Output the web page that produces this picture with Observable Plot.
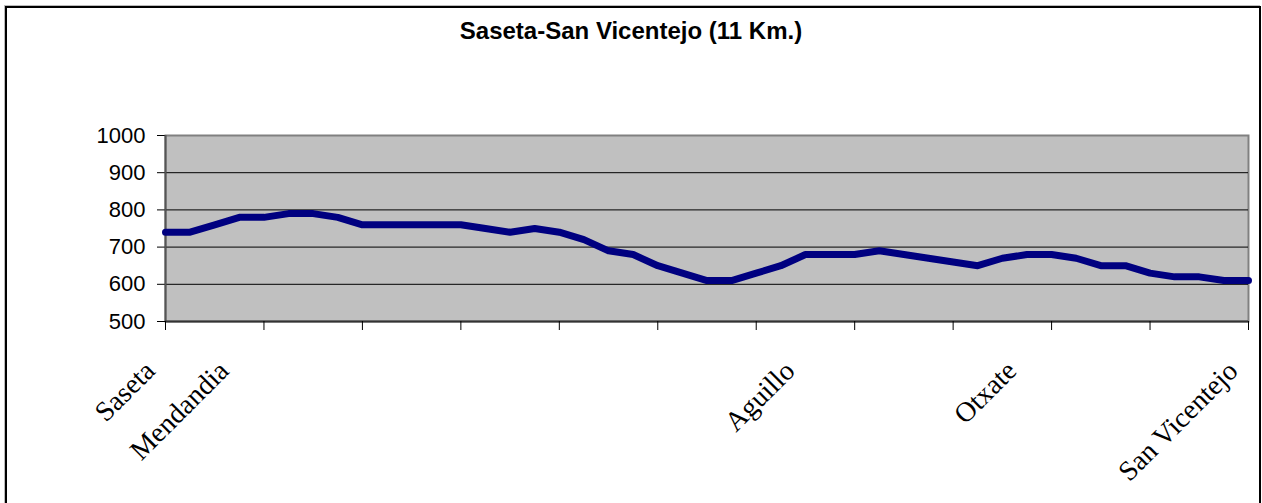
<!DOCTYPE html>
<html>
<head>
<meta charset="utf-8">
<script src="https://cdn.jsdelivr.net/npm/d3@7"></script>
<script src="https://cdn.jsdelivr.net/npm/@observablehq/plot@0.6"></script>
<style>
  html, body { margin: 0; padding: 0; background: #fff; }
  #wrap { position: relative; width: 1262px; height: 503px; overflow: hidden; }
  #border { position: absolute; left: 5px; top: 6px; width: 1252px; height: 560px;
            border: 2px solid #000; box-shadow: -1px -1px 0 #bbb; }
  #title { position: absolute; left: 0; top: 19px; width: 1262px; text-align: center;
           font: bold 24px "Liberation Sans", Arial, sans-serif; line-height: 24px; color: #000; }
  #chart { position: absolute; left: 0; top: 0; }
</style>
</head>
<body>
<div id="wrap">
  <div id="border"></div>
  <div id="chart"></div>
  <div id="title">Saseta-San Vicentejo (11 Km.)</div>
</div>
<script>
// Elevation (m) every 0.25 km along the 11 km route
const elevations = [740, 740, 760, 780, 780, 790, 790, 780, 760, 760, 760, 760, 760, 750, 740, 750,
                    740, 720, 690, 680, 650, 630, 610, 610, 630, 650, 680, 680, 680, 690, 680, 670,
                    660, 650, 670, 680, 680, 670, 650, 650, 630, 620, 620, 610, 610];
const stopNames = ["Saseta", "Mendandia", "Aguillo", "Otxate", "San Vicentejo"];
const stopIndex = [0, 3, 26, 35, 44];
const yTicks = [500, 600, 700, 800, 900, 1000];
const xTicks = [0, 4, 8, 12, 16, 20, 24, 28, 32, 36, 40, 44];

const points = elevations.map((v, i) => ({i, v}));
const stops = stopNames.map((name, k) => ({name, i: stopIndex[k]}));

const chart = Plot.plot({
  width: 1262,
  height: 503,
  marginLeft: 165,
  marginRight: 14,
  marginTop: 135,
  marginBottom: 182,
  style: {background: "transparent", fontFamily: "'Liberation Sans', Arial, sans-serif"},
  x: {domain: [0, elevations.length - 1], axis: null, label: null},
  y: {domain: [500, 1000], axis: null, label: null},
  marks: [
    Plot.frame({fill: "#c0c0c0", stroke: "#808080", strokeWidth: 2}),
    Plot.gridY(yTicks.slice(1, -1), {stroke: "#000", strokeOpacity: 1, strokeWidth: 1}),
    Plot.axisY(yTicks, {tickSize: 8, tickPadding: 12, fontSize: 22, stroke: "#000", fill: "#000",
                        label: null, tickFormat: d => String(d)}),
    Plot.ruleX([0], {stroke: "#555", strokeWidth: 2}),
    Plot.ruleY([500], {stroke: "#333", strokeWidth: 2}),
    Plot.axisX(xTicks, {tickSize: 9, tickFormat: () => "", stroke: "#000", label: null}),
    Plot.line(points, {x: "i", y: "v", stroke: "#000080", strokeWidth: 7, strokeLinejoin: "round"}),
    Plot.text(stops, {
      x: "i", text: "name", frameAnchor: "bottom", rotate: -45,
      textAnchor: "end", lineAnchor: "bottom", dx: -9, dy: 51,
      fontSize: 28, fontFamily: "'Liberation Serif', 'Times New Roman', serif", fill: "#000"
    })
  ]
});
document.getElementById("chart").appendChild(chart);
</script>
</body>
</html>
